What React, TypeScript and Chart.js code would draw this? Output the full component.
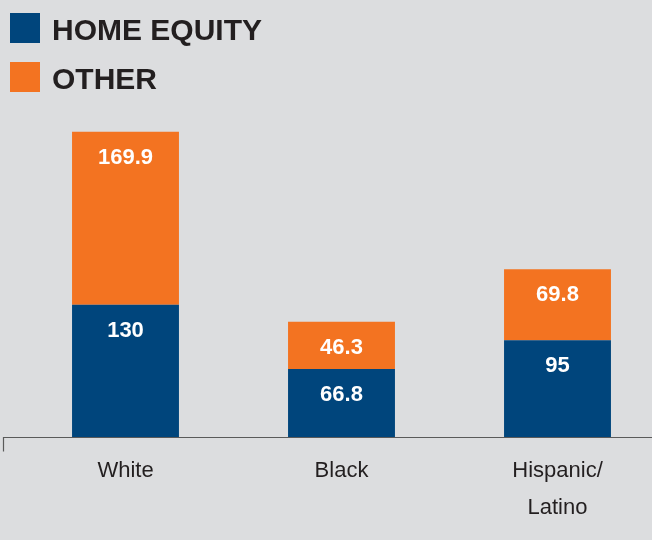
import React, { useEffect, useRef } from "react";
import { Chart, registerables } from "chart.js";

Chart.register(...registerables);

const categories = ["White", "Black", "Hispanic/\nLatino"];
const homeEquity = [130, 66.8, 95];
const other = [169.9, 46.3, 69.8];
const seriesNames = ["HOME EQUITY", "OTHER"];
const seriesColors = ["#00457c", "#f37321"];
const yMax = 330;

const BG = "#dcdddf";
const TEXT = "#231f20";

const legendPlugin = {
  id: "customLegend",
  afterDraw(chart: any) {
    const ctx = chart.ctx;
    ctx.save();
    chart.data.datasets.forEach((ds: any, i: number) => {
      const top = 13 + i * 49;
      ctx.fillStyle = ds.backgroundColor;
      ctx.fillRect(10, top, 30, 30);
      ctx.fillStyle = TEXT;
      ctx.font = "bold 30px 'Liberation Sans', Arial, sans-serif";
      ctx.textBaseline = "alphabetic";
      ctx.textAlign = "left";
      ctx.fillText(ds.label, 52, top + 27);
    });
    ctx.restore();
  },
};

const valueLabelPlugin = {
  id: "valueLabels",
  afterDatasetsDraw(chart: any) {
    const ctx = chart.ctx;
    ctx.save();
    ctx.fillStyle = "#ffffff";
    ctx.font = "bold 22px 'Liberation Sans', Arial, sans-serif";
    ctx.textAlign = "center";
    ctx.textBaseline = "middle";
    chart.data.datasets.forEach((ds: any, di: number) => {
      const meta = chart.getDatasetMeta(di);
      meta.data.forEach((el: any, i: number) => {
        const v = ds.data[i];
        ctx.fillText(String(v), el.x, el.y + 26);
      });
    });
    ctx.restore();
  },
};

const axisPlugin = {
  id: "axisLine",
  afterDatasetsDraw(chart: any) {
    const ctx = chart.ctx;
    const y = Math.round(chart.chartArea.bottom) + 0.5;
    ctx.save();
    ctx.strokeStyle = "#5a5a5a";
    ctx.lineWidth = 1.2;
    ctx.beginPath();
    ctx.moveTo(3.5, y + 14);
    ctx.lineTo(3.5, y);
    ctx.lineTo(chart.width, y);
    ctx.stroke();
    ctx.restore();
  },
};

export default function App() {
  const ref = useRef<HTMLCanvasElement | null>(null);

  useEffect(() => {
    if (!ref.current) return;
    const chart = new Chart(ref.current, {
      type: "bar",
      data: {
        labels: categories,
        datasets: [
          {
            label: seriesNames[0],
            data: homeEquity,
            backgroundColor: seriesColors[0],
            borderWidth: 0,
            categoryPercentage: 1,
            barPercentage: 0.495,
          },
          {
            label: seriesNames[1],
            data: other,
            backgroundColor: seriesColors[1],
            borderWidth: 0,
            categoryPercentage: 1,
            barPercentage: 0.495,
          },
        ],
      },
      options: {
        responsive: false,
        animation: false,
        layout: { padding: { left: 17.5, right: 0.5, top: 101, bottom: 0 } },
        plugins: {
          legend: { display: false },
          tooltip: { enabled: false },
          title: { display: false },
        },
        scales: {
          x: {
            stacked: true,
            offset: true,
            grid: { display: false, drawTicks: false },
            border: { display: false },
            ticks: {
              color: TEXT,
              padding: 15,
              maxRotation: 0,
              autoSkip: false,
              font: { family: "'Liberation Sans', Arial, sans-serif", size: 22, lineHeight: 37 / 22 },
              callback: function (this: any, value: any) {
                const l = String(this.getLabelForValue(value));
                return l.includes("\n") ? l.split("\n") : l;
              },
            },
            afterFit: (scale: any) => {
              scale.height = 103;
            },
          },
          y: {
            stacked: true,
            display: false,
            min: 0,
            max: yMax,
          },
        },
      },
      plugins: [legendPlugin, valueLabelPlugin, axisPlugin],
    });
    return () => chart.destroy();
  }, []);

  return (
    <div
      style={{
        position: "fixed",
        left: 0,
        top: 0,
        width: "652px",
        height: "540px",
        overflow: "hidden",
        background: BG,
      }}
    >
      <canvas ref={ref} width={666} height={540} style={{ display: "block" }} />
    </div>
  );
}
